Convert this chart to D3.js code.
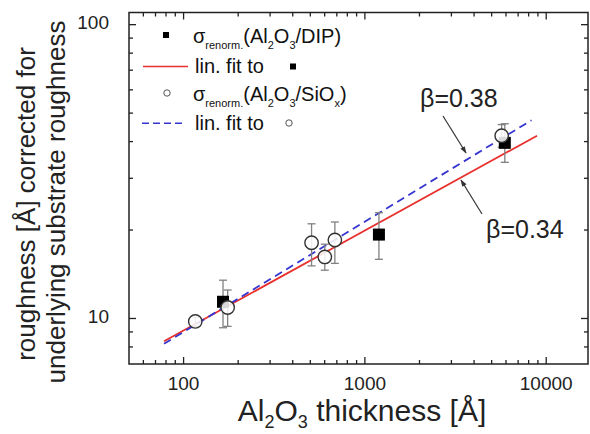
<!DOCTYPE html>
<html>
<head>
<meta charset="utf-8">
<script src="https://cdn.jsdelivr.net/npm/d3@7"></script>
<style>
  body { margin: 0; background: #fff; }
  svg { display: block; font-family: Arial, "Liberation Sans", Helvetica, sans-serif; }
</style>
</head>
<body>
<div id="chart"></div>
<script>
// Al2O3 on DIP (filled squares)
const dipX = [165, 1195, 5910];
const dipY = [11.4, 19.3, 39.6];
const dipLo = [9.3, 15.9, 34.0];
const dipHi = [13.5, 22.9, 46.0];

// Al2O3 on SiOx (open circles)
const sioX = [116, 175, 508, 601, 683, 5680];
const sioY = [9.77, 10.9, 18.1, 16.2, 18.5, 41.9];
const sioLo = [9.4, 9.4, 15.1, 14.6, 15.4, 38.3];
const sioHi = [10.1, 12.5, 21.0, 17.9, 21.3, 45.7];

// fit line end points (straight on log-log)
const fitDipX = [78, 8900];
const fitDipY = [8.37, 41.9];
const fitSioX = [78, 8300];
const fitSioY = [8.2, 47.3];

const xDomain = [50, 17000];
const yDomain = [7, 110];
const xLabels = [100, 1000, 10000];
const yLabels = [10, 100];

const width = 590;
const height = 434;
const plot = { left: 129, right: 588, top: 12.5, bottom: 364 };

const red = '#e8302c';
const blue = '#3535d0';

const svg = d3.select('#chart')
    .append('svg')
    .attr('width', width)
    .attr('height', height);

const x = d3.scaleLog().domain(xDomain).range([plot.left, plot.right]);
const y = d3.scaleLog().domain(yDomain).range([plot.bottom, plot.top]);

// text with subscripts; parts = [[text, isSub], ...]
function richText(g, parts, size, subScale = 0.6, shiftScale = 0.3) {
    const shift = size * shiftScale;
    let down = false;
    parts.forEach(([t, sub]) => {
        const span = g.append('tspan').text(t);
        if (sub && !down) { span.attr('dy', shift); down = true; }
        if (!sub && down) { span.attr('dy', -shift); down = false; }
        span.style('font-size', (sub ? size * subScale : size) + 'px');
    });
    return g;
}

// frame
svg.append('rect')
    .attr('x', plot.left).attr('y', plot.top)
    .attr('width', plot.right - plot.left)
    .attr('height', plot.bottom - plot.top)
    .attr('fill', 'none')
    .attr('stroke', '#222')
    .attr('stroke-width', 1.5);

// ticks (inward, all four sides)
const isMajor = v => Math.abs(Math.log10(v) - Math.round(Math.log10(v))) < 1e-6;
const ticks = svg.append('g').attr('stroke', '#222').attr('stroke-width', 1.3);

x.ticks().filter(v => v > xDomain[0] && v < xDomain[1]).forEach(v => {
    const len = isMajor(v) ? 7 : 4;
    ticks.append('line').attr('x1', x(v)).attr('x2', x(v))
        .attr('y1', plot.bottom).attr('y2', plot.bottom - len);
    ticks.append('line').attr('x1', x(v)).attr('x2', x(v))
        .attr('y1', plot.top).attr('y2', plot.top + len);
});
y.ticks().filter(v => v > yDomain[0] && v < yDomain[1]).forEach(v => {
    const len = isMajor(v) ? 7 : 4;
    ticks.append('line').attr('y1', y(v)).attr('y2', y(v))
        .attr('x1', plot.left).attr('x2', plot.left + len);
    ticks.append('line').attr('y1', y(v)).attr('y2', y(v))
        .attr('x1', plot.right).attr('x2', plot.right - len);
});

// tick labels
svg.append('g').selectAll('text')
    .data(xLabels)
    .join('text')
    .attr('x', d => x(d))
    .attr('y', 390)
    .attr('text-anchor', 'middle')
    .attr('fill', '#222')
    .style('font-size', '19px')
    .text(d => d);

svg.append('g').selectAll('text')
    .data(yLabels)
    .join('text')
    .attr('x', 109)
    .attr('y', d => y(d) - 2)
    .attr('dy', '0.35em')
    .attr('text-anchor', 'end')
    .attr('fill', '#222')
    .style('font-size', '19px')
    .text(d => d);

// axis titles
richText(svg.append('text')
    .attr('x', 362).attr('y', 421)
    .attr('text-anchor', 'middle')
    .attr('fill', '#222'),
    [['Al'], ['2', true], ['O'], ['3', true], [' thickness [Å]']], 30, 0.6, 0.22);

svg.append('text')
    .attr('transform', 'translate(35,204) rotate(-90)')
    .attr('text-anchor', 'middle')
    .attr('fill', '#222')
    .style('font-size', '26px')
    .text('roughness [Å] corrected for');
svg.append('text')
    .attr('transform', 'translate(65,202) rotate(-90)')
    .attr('text-anchor', 'middle')
    .attr('fill', '#222')
    .style('font-size', '26px')
    .text('underlying substrate roughness');

// fit lines
const fitLine = d3.line().x(d => x(d[0])).y(d => y(d[1]));
svg.append('path')
    .attr('d', fitLine(d3.zip(fitDipX, fitDipY)))
    .attr('stroke', red).attr('stroke-width', 1.8).attr('fill', 'none');
svg.append('path')
    .attr('d', fitLine(d3.zip(fitSioX, fitSioY)))
    .attr('stroke', blue).attr('stroke-width', 1.8).attr('fill', 'none')
    .attr('stroke-dasharray', '8,5');

// error bars
function errorBars(xs, lo, hi) {
    const g = svg.append('g').attr('stroke', '#808080').attr('stroke-width', 1.3);
    xs.forEach((v, i) => {
        const cx = x(v);
        g.append('line').attr('x1', cx).attr('x2', cx).attr('y1', y(lo[i])).attr('y2', y(hi[i]));
        g.append('line').attr('x1', cx - 4).attr('x2', cx + 4).attr('y1', y(lo[i])).attr('y2', y(lo[i]));
        g.append('line').attr('x1', cx - 4).attr('x2', cx + 4).attr('y1', y(hi[i])).attr('y2', y(hi[i]));
    });
}
errorBars(sioX, sioLo, sioHi);
errorBars(dipX, dipLo, dipHi);

// markers
svg.append('g').selectAll('rect')
    .data(d3.zip(dipX, dipY))
    .join('rect')
    .attr('x', d => x(d[0]) - 6)
    .attr('y', d => y(d[1]) - 6)
    .attr('width', 12).attr('height', 12)
    .attr('fill', '#000');

svg.append('g').selectAll('circle')
    .data(d3.zip(sioX, sioY))
    .join('circle')
    .attr('cx', d => x(d[0]))
    .attr('cy', d => y(d[1]))
    .attr('r', 6.7)
    .attr('fill', '#fff')
    .attr('fill-opacity', 0.85)
    .attr('stroke', '#333')
    .attr('stroke-width', 1.4);

// legend
const leg = svg.append('g').attr('fill', '#111');
leg.append('rect').attr('x', 163).attr('y', 32).attr('width', 6).attr('height', 6).attr('fill', '#000');
richText(leg.append('text').attr('x', 193).attr('y', 43),
    [['σ'], ['renorm.', true], ['(Al'], ['2', true], ['O'], ['3', true], ['/DIP)']], 20, 0.55);

leg.append('line').attr('x1', 143).attr('x2', 188).attr('y1', 66.5).attr('y2', 66.5)
    .attr('stroke', red).attr('stroke-width', 1.6);
leg.append('text').attr('x', 195).attr('y', 73).style('font-size', '20px').text('lin. fit to');
leg.append('rect').attr('x', 290).attr('y', 63.5).attr('width', 6).attr('height', 6).attr('fill', '#000');

leg.append('circle').attr('cx', 167).attr('cy', 93).attr('r', 3.2)
    .attr('fill', 'none').attr('stroke', '#555').attr('stroke-width', 1);
richText(leg.append('text').attr('x', 193).attr('y', 101),
    [['σ'], ['renorm.', true], ['(Al'], ['2', true], ['O'], ['3', true], ['/SiO'], ['x', true], [')']], 20, 0.55);

leg.append('line').attr('x1', 142).attr('x2', 186).attr('y1', 123.3).attr('y2', 123.3)
    .attr('stroke', blue).attr('stroke-width', 1.6).attr('stroke-dasharray', '7,4');
leg.append('text').attr('x', 195).attr('y', 130).style('font-size', '20px').text('lin. fit to');
leg.append('circle').attr('cx', 289).attr('cy', 123).attr('r', 3.2)
    .attr('fill', 'none').attr('stroke', '#555').attr('stroke-width', 1);

// beta annotations with arrows
const defs = svg.append('defs');
defs.append('marker')
    .attr('id', 'arrow')
    .attr('viewBox', '0 0 10 10')
    .attr('refX', 9).attr('refY', 5)
    .attr('markerWidth', 7).attr('markerHeight', 6)
    .attr('orient', 'auto')
    .append('path')
    .attr('d', 'M0,1.5 L10,5 L0,8.5 Z')
    .attr('fill', '#333');

svg.append('text').attr('x', 420).attr('y', 107)
    .attr('fill', '#222').style('font-size', '25px').text('β=0.38');
svg.append('line')
    .attr('x1', 443).attr('y1', 116).attr('x2', 466).attr('y2', 153)
    .attr('stroke', '#333').attr('stroke-width', 1.2)
    .attr('marker-end', 'url(#arrow)');

svg.append('text').attr('x', 486).attr('y', 238)
    .attr('fill', '#222').style('font-size', '25px').text('β=0.34');
svg.append('line')
    .attr('x1', 482).attr('y1', 214).attr('x2', 461).attr('y2', 180)
    .attr('stroke', '#333').attr('stroke-width', 1.2)
    .attr('marker-end', 'url(#arrow)');
</script>
</body>
</html>
